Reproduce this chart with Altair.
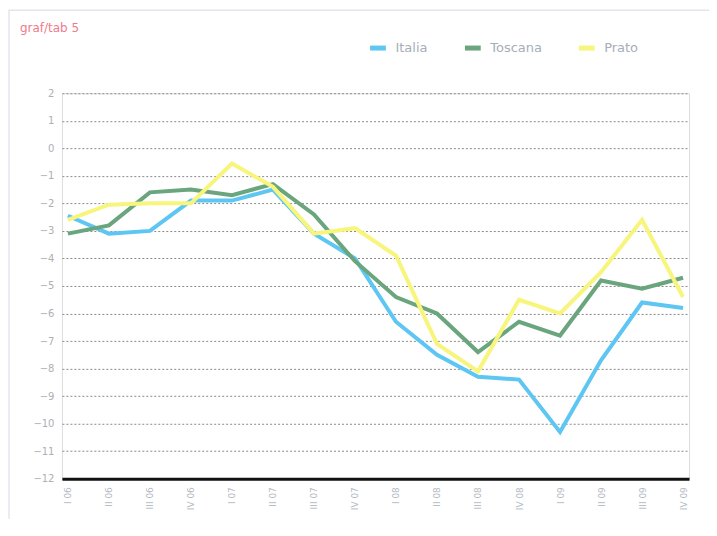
import altair as alt
import pandas as pd

periods = ["I 06", "II 06", "III 06", "IV 06",
           "I 07", "II 07", "III 07", "IV 07",
           "I 08", "II 08", "III 08", "IV 08",
           "I 09", "II 09", "III 09", "IV 09"]
italia = [-2.45, -3.1, -3.0, -1.9, -1.9, -1.5, -3.1, -4.0,
          -6.3, -7.5, -8.3, -8.4, -10.3, -7.7, -5.6, -5.8]
toscana = [-3.1, -2.8, -1.6, -1.5, -1.7, -1.3, -2.4, -4.1,
           -5.4, -6.0, -7.4, -6.3, -6.8, -4.8, -5.1, -4.7]
prato = [-2.6, -2.05, -2.0, -2.0, -0.55, -1.4, -3.1, -2.9,
         -3.9, -7.1, -8.1, -5.5, -6.0, -4.5, -2.6, -5.4]

series_names = ["Italia", "Toscana", "Prato"]
series_colors = ["#5ec6f2", "#6aa57e", "#f7f57c"]

rows = []
for name, vals in zip(series_names, [italia, toscana, prato]):
    for i, (p, v) in enumerate(zip(periods, vals)):
        rows.append({"periodo": p, "valore": v, "serie": name})
df = pd.DataFrame(rows)

W, H = 628, 386

frame = alt.Chart(pd.DataFrame({"a": [0]})).mark_rect(
    fill=None, stroke="#e2e6ec", strokeWidth=1.5
).encode(
    x=alt.value(-53), x2=alt.value(W + 44),
    y=alt.value(-83), y2=alt.value(H + 52)
)

lines = alt.Chart(df).mark_line(strokeWidth=4, clip=False).encode(
    x=alt.X("periodo:O", sort=periods,
            scale=alt.Scale(type="point", padding=0.146),
            axis=alt.Axis(title=None, labelAngle=-90, labelColor="#b4bac2",
                          labelFontSize=9, labelFont="DejaVu Sans",
                          ticks=False, domain=True, domainColor="#111111",
                          domainWidth=3, labelPadding=8, labelBaseline="middle",
                          labelAlign="right", grid=False)),
    y=alt.Y("valore:Q",
            scale=alt.Scale(domain=[-12, 2], nice=False, zero=False),
            axis=alt.Axis(title=None, values=list(range(-12, 3)),
                          labelColor="#aab0b8", labelFontSize=10,
                          labelFont="DejaVu Sans", ticks=False, domain=False,
                          grid=True, gridColor="#8a8a8a", gridDash=[2, 2],
                          gridWidth=1, labelPadding=8)),
    color=alt.Color("serie:N", sort=series_names,
                    scale=alt.Scale(domain=series_names, range=series_colors),
                    legend=alt.Legend(title=None, orient="none", direction="horizontal",
                                      legendX=306, legendY=-56,
                                      symbolType="stroke", symbolStrokeWidth=5,
                                      symbolSize=250, labelColor="#a6aeb8",
                                      labelFontSize=13, labelFont="DejaVu Sans",
                                      columnPadding=26, labelOffset=7)),
    order=alt.Order("serie:N")
)

chart = alt.layer(frame, lines).properties(
    width=W, height=H,
    title=alt.TitleParams("graf/tab 5", anchor="start", frame="group",
                          color="#f07a8a", fontSize=12, fontWeight="normal",
                          font="DejaVu Sans", dx=-42, dy=29),
    autosize=alt.AutoSizeParams(type="none"),
    padding={"left": 54, "top": 85, "right": 20, "bottom": 40}
).configure_view(stroke=None).configure(background="white")

chart.save("out.html", embed_options={"renderer": "svg", "actions": False})
